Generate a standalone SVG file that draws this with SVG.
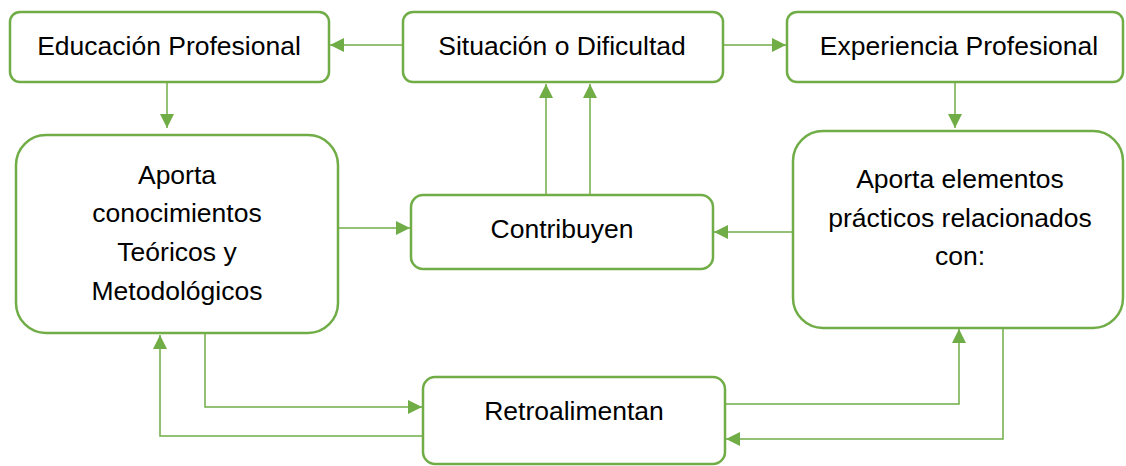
<svg xmlns="http://www.w3.org/2000/svg" width="1126" height="466" viewBox="0 0 1126 466">
<style>
.box{fill:#fff;stroke:#70AD47;stroke-width:2.5}
.c{fill:none;stroke:#70AD47;stroke-width:1.5;marker-end:url(#ah)}
text{font-family:"Liberation Sans",Arial,sans-serif;font-size:26.5px;fill:#000;text-anchor:middle}
</style>
<defs>
<marker id="ah" viewBox="0 0 10 10" refX="10" refY="5" markerWidth="15" markerHeight="14" markerUnits="userSpaceOnUse" orient="auto">
<path d="M0,0 L10,5 L0,10 z" fill="#70AD47"/>
</marker>
</defs>
<rect width="1126" height="466" fill="#fff"/>
<g id="connectors">
<path class="c" d="M403,45 H330"/>
<path class="c" d="M723,45 H786"/>
<path class="c" d="M167,83 V128"/>
<path class="c" d="M955,83 V128"/>
<path class="c" d="M546,195 V84"/>
<path class="c" d="M590,195 V84"/>
<path class="c" d="M338,228 H410"/>
<path class="c" d="M793,232 H714"/>
<path class="c" d="M205,333 V407 H422"/>
<path class="c" d="M423,436 H160 V335"/>
<path class="c" d="M725,404 H959 V329"/>
<path class="c" d="M1003,328 V439 H726"/>
</g>
<g id="educacion">
<rect class="box" x="10" y="12" width="319" height="70" rx="10"/>
<text x="169" y="55">Educación Profesional</text>
</g>
<g id="situacion">
<rect class="box" x="403" y="12" width="320" height="70" rx="10"/>
<text x="562" y="55">Situación o Dificultad</text>
</g>
<g id="experiencia">
<rect class="box" x="787" y="12" width="336" height="70" rx="10"/>
<text x="959" y="55">Experiencia Profesional</text>
</g>
<g id="aporta-conocimientos">
<rect class="box" x="16" y="135" width="322" height="198" rx="30"/>
<text x="177" y="184">Aporta</text>
<text x="177" y="222">conocimientos</text>
<text x="177" y="261">Teóricos y</text>
<text x="177" y="300">Metodológicos</text>
</g>
<g id="contribuyen">
<rect class="box" x="411" y="195" width="302" height="74" rx="12"/>
<text x="562" y="238">Contribuyen</text>
</g>
<g id="aporta-elementos">
<rect class="box" x="793" y="131" width="330" height="197" rx="30"/>
<text x="960" y="188">Aporta elementos</text>
<text x="960" y="227">prácticos relacionados</text>
<text x="960" y="265">con:</text>
</g>
<g id="retroalimentan">
<rect class="box" x="423" y="377" width="302" height="87" rx="12"/>
<text x="574" y="420">Retroalimentan</text>
</g>
</svg>
